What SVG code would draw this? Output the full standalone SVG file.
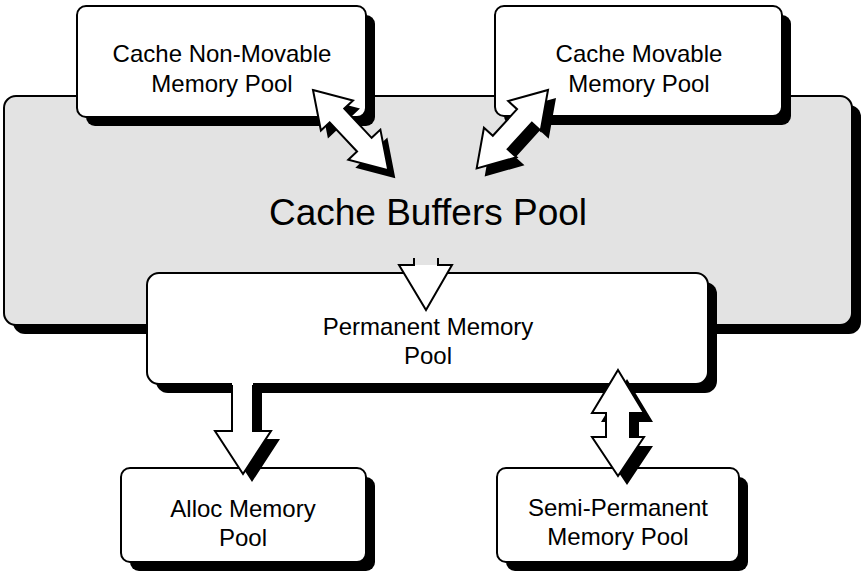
<svg xmlns="http://www.w3.org/2000/svg" width="861" height="572" viewBox="0 0 861 572">
<style>
.box{fill:#fff;stroke:#000;stroke-width:2}
.gray{fill:#e3e3e3;stroke:#000;stroke-width:2}
.sh{fill:#000}
.t{font-family:"Liberation Sans",Arial,sans-serif;font-size:24px;text-anchor:middle;fill:#000}
.arr{fill:#fff;stroke:#000;stroke-width:2;stroke-linejoin:miter}
</style>
<defs>
<polygon id="dA" points="0,0 35,-22 35,-10 75,-10 75,-22 110,0 75,22 75,10 35,10 35,22"/>
<polygon id="dB" points="0,0 35,-22 35,-10 71,-10 71,-22 106,0 71,22 71,10 35,10 35,22"/>
</defs>
<rect width="861" height="572" fill="#fff"/>
<g id="cache-buffers">
<rect class="sh" x="13" y="105" width="848" height="229" rx="12"/>
<rect class="gray" x="4" y="96" width="848" height="229" rx="12"/>
<text class="t" x="428" y="225" style="font-size:37px">Cache Buffers Pool</text>
</g>
<g id="non-movable">
<rect class="sh" x="86" y="15" width="289" height="111" rx="9"/>
<rect class="box" x="77" y="6" width="289" height="111" rx="9"/>
<text class="t" x="222" y="62">Cache Non-Movable</text>
<text class="t" x="222" y="92">Memory Pool</text>
</g>
<g id="movable">
<rect class="sh" x="504" y="15" width="287" height="110" rx="9"/>
<rect class="box" x="495" y="6" width="287" height="110" rx="9"/>
<text class="t" x="639" y="62">Cache Movable</text>
<text class="t" x="639" y="92">Memory Pool</text>
</g>
<g id="permanent">
<rect class="sh" x="156" y="282" width="561" height="111" rx="12"/>
<rect class="box" x="147" y="273" width="561" height="111" rx="12"/>
<text class="t" x="428" y="335">Permanent Memory</text>
<text class="t" x="428" y="364">Pool</text>
</g>
<g id="alloc">
<rect class="sh" x="130" y="477" width="245" height="94" rx="9"/>
<rect class="box" x="121" y="468" width="245" height="94" rx="9"/>
<text class="t" x="243" y="517">Alloc Memory</text>
<text class="t" x="243" y="546">Pool</text>
</g>
<g id="semi-permanent">
<rect class="sh" x="506" y="477" width="242" height="94" rx="9"/>
<rect class="box" x="497" y="468" width="242" height="94" rx="9"/>
<text class="t" x="618" y="516">Semi-Permanent</text>
<text class="t" x="618" y="545">Memory Pool</text>
</g>
<g id="connectors">
<g transform="translate(7,8)"><use href="#dA" class="sh" transform="translate(313,90) rotate(46.8)"/></g>
<use href="#dA" class="arr" transform="translate(313,90) rotate(46.8)"/>
<g transform="translate(8,8)"><use href="#dB" class="sh" transform="translate(548,90) rotate(132.3)"/></g>
<use href="#dB" class="arr" transform="translate(548,90) rotate(132.3)"/>
<polygon fill="#fff" points="399,265 452,265 426,310"/>
<path fill="none" stroke="#000" stroke-width="2" d="M414,258 V265 H399 L426,310 L452,265 H438 V258"/>
<polygon class="sh" points="241,389 241,439 224,439 252,482 280,439 262,439 262,389"/>
<polygon fill="#fff" points="232,380 232,431 215,431 243,474 271,431 253,431 253,380"/>
<path fill="none" stroke="#000" stroke-width="2" d="M232,385 V431 H215 L243,474 L271,431 H253 V385"/>
<polygon class="sh" points="627,379 653,422 639,422 639,446 653,446 627,485 601,446 615,446 615,422 601,422"/>
<polygon class="arr" points="618,370 644,413 630,413 630,437 644,437 618,476 592,437 606,437 606,413 592,413"/>
</g>
</svg>
